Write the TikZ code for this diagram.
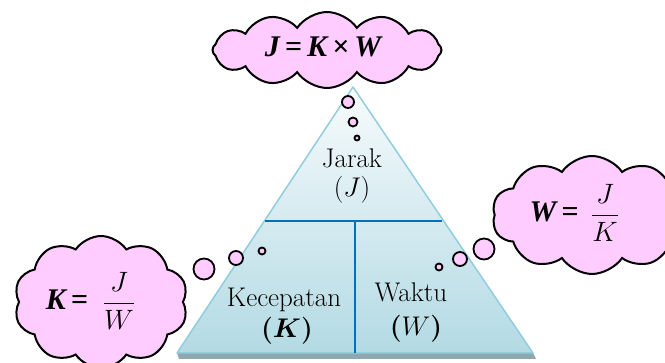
\RequirePackage{fix-cm}
\documentclass[tikz,border=0pt]{standalone}
\usepackage{bm}
\usepackage{fontspec}
\newfontfamily\eqfont{Liberation Serif}
\usetikzlibrary{shapes.symbols}
\definecolor{cloudpink}{HTML}{FFCCFF}
\definecolor{triedge}{HTML}{92CDDC}
\definecolor{tritop}{HTML}{F7FBFC}
\definecolor{tribot}{HTML}{B3DAE4}
\definecolor{divblue}{HTML}{0070C0}
\definecolor{shadowgray}{HTML}{8FA7AE}
\newcommand{\eqgap}{\hspace{0.17em}}
\begin{document}
\begin{tikzpicture}[x=1pt,y=-1pt,
  thought/.style={cloud, cloud puffs=#1, cloud puff arc=112, cloud ignores aspect, draw=black, line width=2pt, fill=cloudpink, inner sep=0pt},
  bubble/.style={circle, draw=black, line width=1.8pt, fill=cloudpink, inner sep=0pt, minimum size=#1},
  lbl/.style={font=\fontsize{27}{30}\selectfont, align=center, inner sep=0pt},
  eq/.style={font=\eqfont\bfseries\itshape\fontsize{#1}{#1}\selectfont, inner sep=0pt, anchor=base},
  frac/.style={font=\fontsize{28}{32}\selectfont, inner sep=0pt},
  divider/.style={draw=divblue, line width=2.8pt}]
\useasboundingbox (0,0) rectangle (665,363);
\clip (0,0) rectangle (665,363);
% triangle
\coordinate (apex) at (353,87);
\coordinate (bl) at (177,353);
\coordinate (br) at (533,353);
\coordinate (sbl) at (179,359);
\coordinate (sbr) at (536,359);
\fill[shadowgray] (bl) -- (br) -- (sbr) -- (sbl) -- cycle;
\shade[top color=tritop, bottom color=tribot] (apex) -- (bl) -- (br) -- cycle;
\draw[triedge, line width=1.5pt, line join=round] (apex) -- (bl) -- (br) -- cycle;
\coordinate (hl) at (265,221);
\coordinate (hr) at (442,221);
\coordinate (vt) at (355,221);
\coordinate (vb) at (355,353);
\draw[divider] (hl) -- (hr);
\draw[divider] (vt) -- (vb);
% labels
\node[lbl] (jarak) at (352,158) {Jarak};
\node[lbl] (jsym) at (352,190) {$(J)$};
\node[lbl] (kec) at (284,300) {Kecepatan};
\node[lbl] (ksym) at (287,331) {$\bm{(K)}$};
\node[lbl] (waktu) at (411,292) {Waktu};
\node[lbl] (wsym) at (416,329) {$\bm{(}W\bm{)}$};
% clouds
\node[thought=12, minimum width=229pt, minimum height=76pt] (topcloud) at (327,50) {};
\node[eq=30] (toptext) at (323,57) {J\eqgap=\eqgap K\eqgap×\eqgap W};
\node[thought=10, minimum width=174pt, minimum height=132pt] (leftcloud) at (101,302) {};
\node[eq=30] (lefteq) at (67,310) {K\eqgap=};
\node[frac] (leftfrac) at (119,301) {$\displaystyle\frac{J}{W}$};
\node[thought=10, minimum width=200pt, minimum height=118pt] (rightcloud) at (592,215) {};
\node[eq=30] (righteq) at (554,222) {W\eqgap=};
\node[frac] (rightfrac) at (605,213) {$\displaystyle\frac{J}{K}$};
% bubbles
\node[bubble=12pt] (tb1) at (348,102) {};
\node[bubble=9pt] (tb2) at (353,122) {};
\node[bubble=5pt] (tb3) at (357,138) {};
\node[bubble=7pt] (lb1) at (262,251) {};
\node[bubble=14pt] (lb2) at (236,258) {};
\node[bubble=21pt] (lb3) at (204,269) {};
\node[bubble=7pt] (rb1) at (439,267) {};
\node[bubble=14pt] (rb2) at (460,259) {};
\node[bubble=21pt] (rb3) at (484,249) {};
\end{tikzpicture}
\end{document}
